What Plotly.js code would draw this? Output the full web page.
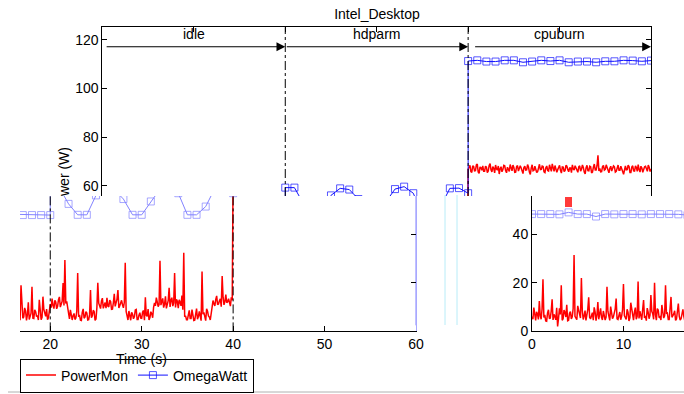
<!DOCTYPE html>
<html>
<head>
<meta charset="utf-8">
<script src="https://cdn.plot.ly/plotly-3.0.1.min.js"></script>
<style>html,body{margin:0;padding:0;background:#fff;}#chart{width:684px;height:394px;}</style>
</head>
<body>
<div id="chart"></div>
<script>
// ---------------- DATA ----------------
// Phase labels and boundaries (s)
const phaseNames = ['idle', 'hdparm', 'cpuburn'];
const phaseStart = [0, 20, 40];
const phaseEnd = [20, 40, 60];

// PowerMon samples (W), one every 0.1 s from t = 0 to t = 60
const pmStep = 0.1;
const pmPower = [
  // idle 0 - 19.9 s
  6.1,5.0, 9.8,7.3, 4.5,8.1, 7.2,4.9, 12.5,6.4, 5.0,9.2, 21.5,5.7, 6.8,4.3, 4.2,7.6, 8.9,5.2,
  5.5,8.4, 13.2,4.7, 7.0,6.1, 4.8,9.7, 2.0,5.3, 9.5,7.0, 19.0,4.6, 5.2,8.8, 7.8,5.9, 11.0,4.4,
  4.6,7.5, 8.2,5.1, 6.0,9.4, 31.5,6.2, 5.4,4.8, 10.5,7.9, 7.1,5.5, 22.0,8.5, 4.9,6.3, 8.6,4.5,
  6.3,9.1, 14.0,5.8, 5.1,7.3, 7.7,4.6, 9.9,8.0, 4.4,6.6, 12.1,5.0, 6.6,9.5, 5.8,4.7, 8.4,7.1,
  4.7,5.9, 18.4,8.2, 6.9,4.5, 10.2,7.7, 5.3,6.0, 7.5,9.3, 13.5,5.2, 4.9,7.4, 8.0,4.8, 6.2,8.9,
  19.5,6.5, 5.6,4.9, 9.1,7.8, 4.3,5.6, 11.8,8.6, 6.7,4.6, 7.9,9.8, 5.0,6.2, 20.5,5.3, 8.3,7.0,
  4.8,9.0, 12.9,5.5, 6.4,4.4, 9.6,7.9, 5.2,6.7, 15.0,8.3, 7.3,5.0, 20.0,6.9, 4.6,9.4, 8.8,5.7,
  6.0,4.7, 10.9,8.1, 5.5,6.4, 19.0,7.5, 7.6,4.9, 4.9,9.6, 14.2,5.8, 6.3,7.2, 8.5,4.5, 5.1,8.7,
  11.5,6.3, 4.7,5.2, 7.9,9.1, 6.2,4.6, 19.0,7.7, 5.4,5.9, 9.7,8.4, 4.5,6.8, 12.0,4.9, 6.8,7.5,
  18.4,5.4, 5.3,8.9, 8.1,6.1, 6.5,4.7, 13.0,7.3, 4.8,5.8, 14.3,9.0, 7.0,6.2, 9.2,4.8, 5.6,8.0,
  // hdparm 20 - 39.9 s
  11.2,9.8, 13.5,10.6, 9.4,12.8, 12.1,9.3, 10.3,13.1, 14.2,10.0, 11.0,12.4, 19.9,10.7, 29.4,11.5, 12.4,9.9,
  6.2,5.1, 8.9,7.0, 4.7,6.5, 7.4,4.9, 5.5,8.3, 24.0,6.0, 6.8,4.6, 4.5,7.8, 9.3,5.4, 5.9,8.1,
  7.6,4.7, 4.8,6.9, 17.0,5.6, 6.4,8.7, 8.2,4.5, 5.1,9.9, 20.0,11.6, 10.8,9.4, 12.6,13.7, 9.5,11.3,
  11.9,9.6, 13.8,10.4, 10.1,12.9, 12.3,9.1, 9.2,11.8, 15.5,10.3, 11.4,13.3, 17.0,9.7, 10.6,12.2, 12.8,10.9,
  9.7,12.0, 28.3,8.2, 5.8,4.7, 8.4,6.3, 4.6,7.9, 7.1,5.2, 6.0,8.8, 9.0,4.9, 4.9,6.7, 7.7,5.5,
  5.4,8.0, 8.6,4.6, 14.0,6.6, 6.2,9.2, 4.7,5.7, 8.1,7.3, 5.6,9.9, 11.7,10.5, 13.9,12.1, 10.2,11.0,
  29.1,10.8, 12.5,13.6, 9.8,11.2, 14.4,9.5, 11.1,12.7, 18.0,10.1, 12.9,13.9, 10.4,11.7, 24.0,9.9, 13.2,12.4,
  9.6,13.0, 12.0,10.5, 14.8,8.9, 32.4,6.0, 6.4,4.8, 4.8,7.6, 8.7,5.3, 5.3,9.0, 7.2,4.5, 4.6,6.8,
  9.4,5.0, 6.1,8.2, 5.0,4.4, 24.7,7.1, 7.8,5.8, 4.4,9.3, 8.3,6.4, 5.9,4.7, 6.9,10.6, 12.7,11.4,
  10.5,13.2, 14.6,11.0, 11.3,12.6, 13.4,10.2, 22.8,14.1, 10.9,12.3, 15.2,11.8, 12.2,13.5, 11.6,10.4, 14.0,12.8,
  // cpuburn 40 - 60 s
  66.8,67.9, 68.4,65.8, 65.5,68.2, 67.9,66.1, 66.2,68.6, 68.9,65.6, 65.1,67.7, 67.4,66.3, 68.1,65.9, 65.9,68.0,
  67.6,65.4, 66.0,68.3, 69.1,66.5, 65.7,67.8, 67.2,65.3, 68.5,66.9, 66.4,68.1, 64.8,67.0, 67.8,65.7, 66.6,68.4,
  68.2,66.2, 65.3,67.6, 67.0,65.9, 68.7,66.7, 66.1,68.5, 67.5,65.5, 65.6,67.9, 68.3,66.0, 66.9,68.2, 67.3,65.8,
  65.0,67.5, 68.0,66.4, 66.5,68.7, 67.7,65.6, 64.6,67.2, 68.6,66.1, 66.3,68.0, 67.1,65.4, 65.8,67.8, 68.8,66.6,
  66.7,68.1, 67.9,65.7, 65.4,67.4, 68.1,66.2, 66.0,68.6, 67.4,65.9, 69.0,66.8, 65.9,68.3, 67.2,65.5, 66.6,67.9,
  68.4,66.3, 65.2,67.7, 67.6,65.8, 66.2,68.4, 68.0,66.6, 65.7,67.3, 67.3,65.4, 68.6,66.9, 66.4,68.2, 67.0,65.7,
  65.5,67.8, 68.2,66.0, 66.8,68.5, 67.5,65.6, 64.9,67.4, 68.4,66.2, 66.1,68.0, 67.8,65.3, 65.6,67.6, 68.9,66.5,
  66.5,68.3, 72.5,66.1, 67.1,65.7, 65.8,67.9, 68.3,66.4, 66.7,68.6, 67.4,65.5, 65.3,67.2, 68.0,66.0, 66.9,68.1,
  67.7,65.6, 65.9,67.5, 68.5,66.3, 66.3,68.0, 67.2,65.8, 64.7,67.3, 68.1,66.5, 66.6,68.4, 67.9,65.4, 65.4,67.7,
  68.2,66.1, 66.0,68.2, 67.5,65.9, 68.7,66.6, 65.6,68.0, 67.3,65.5, 66.8,67.8, 68.0,66.2, 65.9,68.5, 67.6,65.8, 66.9
];
const pmTime = pmPower.map((_, i) => +(i * pmStep).toFixed(1));

// OmegaWatt samples (W), 1 Hz per phase (each phase restarts at its boundary); last = final drop
const owTime = [
  0, 1, 2, 3, 4, 5, 6, 7, 8, 9, 10, 11, 12, 13, 14, 15, 16, 17, 18, 19, 20,
  20, 21, 22, 23, 24, 25, 26, 27, 28, 29, 30, 31, 32, 33, 34, 35, 36, 37, 38, 39, 40,
  40, 41, 42, 43, 44, 45, 46, 47, 48, 49, 50, 51, 52, 53, 54, 55, 56, 57, 58, 59, 60,
  60
];
const owPower = [
  48.3, 48.3, 48.3, 48.2, 49.0, 48.3, 48.3, 47.3, 48.3, 48.2, 48.3, 48.3, 48.2, 48.3, 48.3, 48.3, 48.2, 47.9, 47.9, 47.9, 47.9,
  59.2, 59.2, 52.5, 48.0, 48.0, 56.0, 58.9, 58.4, 54.5, 48.0, 48.0, 53.5, 58.6, 59.6, 56.9, 48.0, 48.0, 51.4, 58.9, 59.0, 56.9,
  111.3, 111.6, 111.1, 111.1, 111.6, 111.6, 110.8, 111.1, 111.6, 111.3, 111.6, 110.8, 111.1, 111.1, 110.8, 111.2, 111.2, 111.6, 111.5, 111.2, 111.5,
  2.5
];
const owMarkerSize = owPower.map((_, i) => (i === owPower.length - 1 ? 0 : 7));

// Axis ticks
const topYTicks = [60, 80, 100, 120];
const timeTicks = [0, 10, 20, 30, 40, 50, 60];
const lowYTicks = [0, 20, 40];

// ---------------- FIGURE ----------------
const W = 684, H = 394;
const px = v => v / W;            // horizontal pixel -> paper
const py = v => 1 - v / H;        // vertical pixel -> paper

const RED = '#ff0000';
const BLUE = '#1010ff';
const LIGHTBLUE = '#8282ff';

function pm(xa, ya, show) {
  return {x: pmTime, y: pmPower, xaxis: xa, yaxis: ya, type: 'scatter', mode: 'lines',
    name: 'PowerMon', showlegend: show, line: {color: RED, width: 1.5}, hoverinfo: 'skip'};
}
function ow(xa, ya, show, col, withDrop) {
  const n = withDrop ? owTime.length : owTime.length - 1;
  return {x: owTime.slice(0, n), y: owPower.slice(0, n), xaxis: xa, yaxis: ya, type: 'scatter',
    mode: 'lines+markers', name: 'OmegaWatt', showlegend: show, line: {color: col, width: 1},
    marker: {symbol: 'square-open', size: owMarkerSize.slice(0, n), color: col, line: {width: 1, color: col}},
    hoverinfo: 'skip'};
}

const traces = [
  pm('x', 'y', true), ow('x', 'y', true, BLUE, false),
  pm('x2', 'y2', false), ow('x2', 'y2', false, LIGHTBLUE, true),
  pm('x3', 'y3', false), ow('x3', 'y3', false, LIGHTBLUE, false)
];

const axBase = {showgrid: false, zeroline: false, showline: true, linecolor: '#000', linewidth: 1,
  ticks: 'inside', ticklen: 5, tickcolor: '#000', tickfont: {size: 14, color: '#000'}, fixedrange: true};

const lowTop = 196, lowBottom = 331.4;

const layout = {
  width: W, height: H,
  margin: {l: 0, r: 0, t: 0, b: 0, pad: 0, autoexpand: false},
  paper_bgcolor: '#fff', plot_bgcolor: 'rgba(0,0,0,0)',
  font: {family: 'Liberation Sans, Arial, sans-serif', size: 14, color: '#000'},
  title: {text: 'Intel_Desktop', x: px(377), y: py(14), xanchor: 'center', yanchor: 'middle',
    xref: 'paper', yref: 'paper', font: {size: 14, color: '#000'}},
  // top (upper part of original)
  xaxis: Object.assign({}, axBase, {domain: [px(102.4), px(651)], range: [0, 60], side: 'top',
    anchor: 'y', tickvals: timeTicks, showticklabels: false}),
  yaxis: Object.assign({}, axBase, {domain: [py(lowTop), py(27.3)], range: [55.75, 125.2],
    anchor: 'x', tickvals: topYTicks, mirror: 'ticks'}),
  // lower middle (shifted)
  xaxis2: Object.assign({}, axBase, {domain: [px(20), px(416)], range: [16.69, 60], anchor: 'y2',
    tickvals: timeTicks}),
  yaxis2: Object.assign({}, axBase, {domain: [py(lowBottom), py(lowTop)], range: [0, 55.75], anchor: 'x2',
    side: 'right', tickvals: [20, 40], showticklabels: false, linecolor: '#a8a8ff'}),
  // lower right (wrapped)
  xaxis3: Object.assign({}, axBase, {domain: [px(532), 1], range: [0, 16.62], anchor: 'y3',
    tickvals: timeTicks}),
  yaxis3: Object.assign({}, axBase, {domain: [py(lowBottom), py(lowTop)], range: [0, 55.75], anchor: 'x3',
    tickvals: lowYTicks}),
  showlegend: true,
  legend: {orientation: 'h', x: px(20), y: py(392.5), xanchor: 'left', yanchor: 'bottom',
    bordercolor: '#000', borderwidth: 1, bgcolor: '#fff', font: {size: 14, color: '#000'},
    itemwidth: 30, tracegroupgap: 0},
  shapes: [],
  annotations: []
};

// phase boundaries (dash-dot) in the top and lower-middle panels
[phaseStart[1], phaseStart[2]].forEach(t => {
  layout.shapes.push({type: 'line', xref: 'x', yref: 'y domain', x0: t, x1: t, y0: 0, y1: 1,
    line: {color: '#000', width: 1, dash: 'dashdot'}});
  layout.shapes.push({type: 'line', xref: 'x2', yref: 'y2 domain', x0: t, x1: t, y0: 0, y1: 1,
    line: {color: '#000', width: 1, dash: 'dashdot'}});
});
// decorative artefacts of the reference
layout.shapes.push({type: 'line', xref: 'paper', yref: 'paper', x0: px(8), x1: 1, y0: py(392), y1: py(392),
  line: {color: '#b0b0b0', width: 1}});
layout.shapes.push({type: 'line', xref: 'paper', yref: 'paper', x0: px(445), x1: px(445), y0: py(195), y1: py(325),
  line: {color: '#b8ecf8', width: 1}});
layout.shapes.push({type: 'line', xref: 'paper', yref: 'paper', x0: px(457), x1: px(457), y0: py(195), y1: py(325),
  line: {color: '#b8ecf8', width: 1}});
layout.shapes.push({type: 'rect', xref: 'paper', yref: 'paper', x0: px(565), x1: px(572), y0: py(207), y1: py(197),
  fillcolor: '#ff3a3a', line: {width: 0}});

// phase labels and arrows
const arrowY = 117.2, labelY = 122.3;
const arrowFrom = [0.3, 20, 40.6];
phaseNames.forEach((n, i) => {
  layout.annotations.push({xref: 'x', yref: 'y', x: (phaseStart[i] + phaseEnd[i]) / 2, y: labelY,
    text: n, showarrow: false, xanchor: 'center', yanchor: 'middle', font: {size: 14}});
  layout.annotations.push({xref: 'x', yref: 'y', x: phaseEnd[i], y: arrowY, axref: 'x', ayref: 'y',
    ax: arrowFrom[i], ay: arrowY, text: '', showarrow: true, arrowhead: 2, arrowsize: 1.6,
    arrowwidth: 1.1, arrowcolor: '#000', standoff: 0, startstandoff: 0});
});
// axis titles (fragments as visible in the reference)
layout.annotations.push({xref: 'paper', yref: 'paper', x: px(64), y: py(172), text: 'wer (W)',
  textangle: -90, showarrow: false, xanchor: 'center', yanchor: 'middle', font: {size: 14}});
layout.annotations.push({xref: 'x2', yref: 'paper', x: 30, y: py(359), text: 'Time (s)',
  showarrow: false, xanchor: 'center', yanchor: 'middle', font: {size: 14}});

Plotly.newPlot('chart', traces, layout, {staticPlot: true, displayModeBar: false});
</script>
</body>
</html>
